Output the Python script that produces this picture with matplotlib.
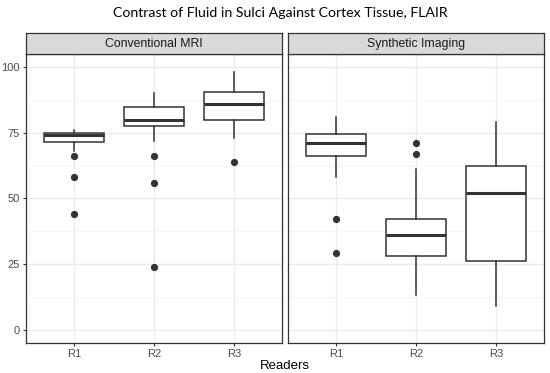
import matplotlib.pyplot as plt
from matplotlib.ticker import MultipleLocator

readers = ["R1", "R2", "R3"]
panels = ["Conventional MRI", "Synthetic Imaging"]

# box stats per panel, per reader
conv_q1 = [71.5, 77.5, 80.0]
conv_med = [74.0, 80.0, 86.0]
conv_q3 = [75.0, 85.0, 90.5]
conv_lo = [68.0, 72.0, 73.0]
conv_hi = [76.0, 90.0, 98.0]
conv_out = [[66, 58, 44], [66, 56, 24], [64]]

syn_q1 = [66.0, 28.0, 26.0]
syn_med = [71.0, 36.0, 52.0]
syn_q3 = [74.5, 42.0, 62.5]
syn_lo = [58.0, 13.0, 9.0]
syn_hi = [81.0, 61.0, 79.0]
syn_out = [[42, 29], [71, 67], []]

dark = "#333333"
plt.rcParams['font.family'] = ['Liberation Sans', 'DejaVu Sans']

fig = plt.figure(figsize=(5.5, 3.73), dpi=100)

fig.text(0.51, 0.966, "Contrast of Fluid in Sulci Against Cortex Tissue, FLAIR",
         ha='center', va='center', fontsize=10.2, family=['Lato', 'DejaVu Sans'])

lefts = [0.0467, 0.523]
width = 0.4665
bottom = 0.0812
height = 0.774
strip_h = 0.0555

data = [
    (conv_q1, conv_med, conv_q3, conv_lo, conv_hi, conv_out),
    (syn_q1, syn_med, syn_q3, syn_lo, syn_hi, syn_out),
]

for i, (name, d) in enumerate(zip(panels, data)):
    ax = fig.add_axes([lefts[i], bottom, width, height])
    q1, med, q3, lo, hi, out = d
    stats = []
    for j in range(3):
        stats.append({"q1": q1[j], "med": med[j], "q3": q3[j],
                      "whislo": lo[j], "whishi": hi[j], "fliers": out[j]})
    ax.bxp(stats, positions=[1, 2, 3], widths=0.75, showcaps=False,
           patch_artist=True,
           boxprops=dict(facecolor='white', edgecolor=dark, linewidth=1.1),
           medianprops=dict(color=dark, linewidth=2.2),
           whiskerprops=dict(color=dark, linewidth=1.1),
           flierprops=dict(marker='o', markerfacecolor=dark, markeredgecolor=dark,
                           markersize=4.2))
    ax.set_xlim(0.4, 3.6)
    ax.set_ylim(-5, 105)
    ax.set_xticks([1, 2, 3])
    ax.set_xticklabels(readers)
    ax.yaxis.set_major_locator(MultipleLocator(25))
    ax.yaxis.set_minor_locator(MultipleLocator(12.5))
    ax.grid(True, which='major', color='#EBEBEB', linewidth=1.0)
    ax.grid(True, which='minor', axis='y', color='#F3F3F3', linewidth=0.6)
    ax.set_axisbelow(True)
    ax.tick_params(which='major', length=2.5, width=0.8, color=dark,
                   labelcolor='#4D4D4D', labelsize=8, pad=2)
    ax.tick_params(which='minor', length=0)
    if i == 1:
        ax.tick_params(axis='y', which='major', left=False, labelleft=False)
    for s in ax.spines.values():
        s.set_color(dark)
        s.set_linewidth(0.9)

    sax = fig.add_axes([lefts[i], bottom + height, width, strip_h])
    sax.set_facecolor('#D9D9D9')
    sax.set_xticks([])
    sax.set_yticks([])
    for s in sax.spines.values():
        s.set_color(dark)
        s.set_linewidth(0.9)
    sax.text(0.5, 0.5, name, ha='center', va='center', fontsize=8.8,
             color='#1A1A1A', transform=sax.transAxes)

fig.text(0.518, 0.02, "Readers", ha='center', va='center', fontsize=9.5)

fig.savefig("out.png", dpi=100)
